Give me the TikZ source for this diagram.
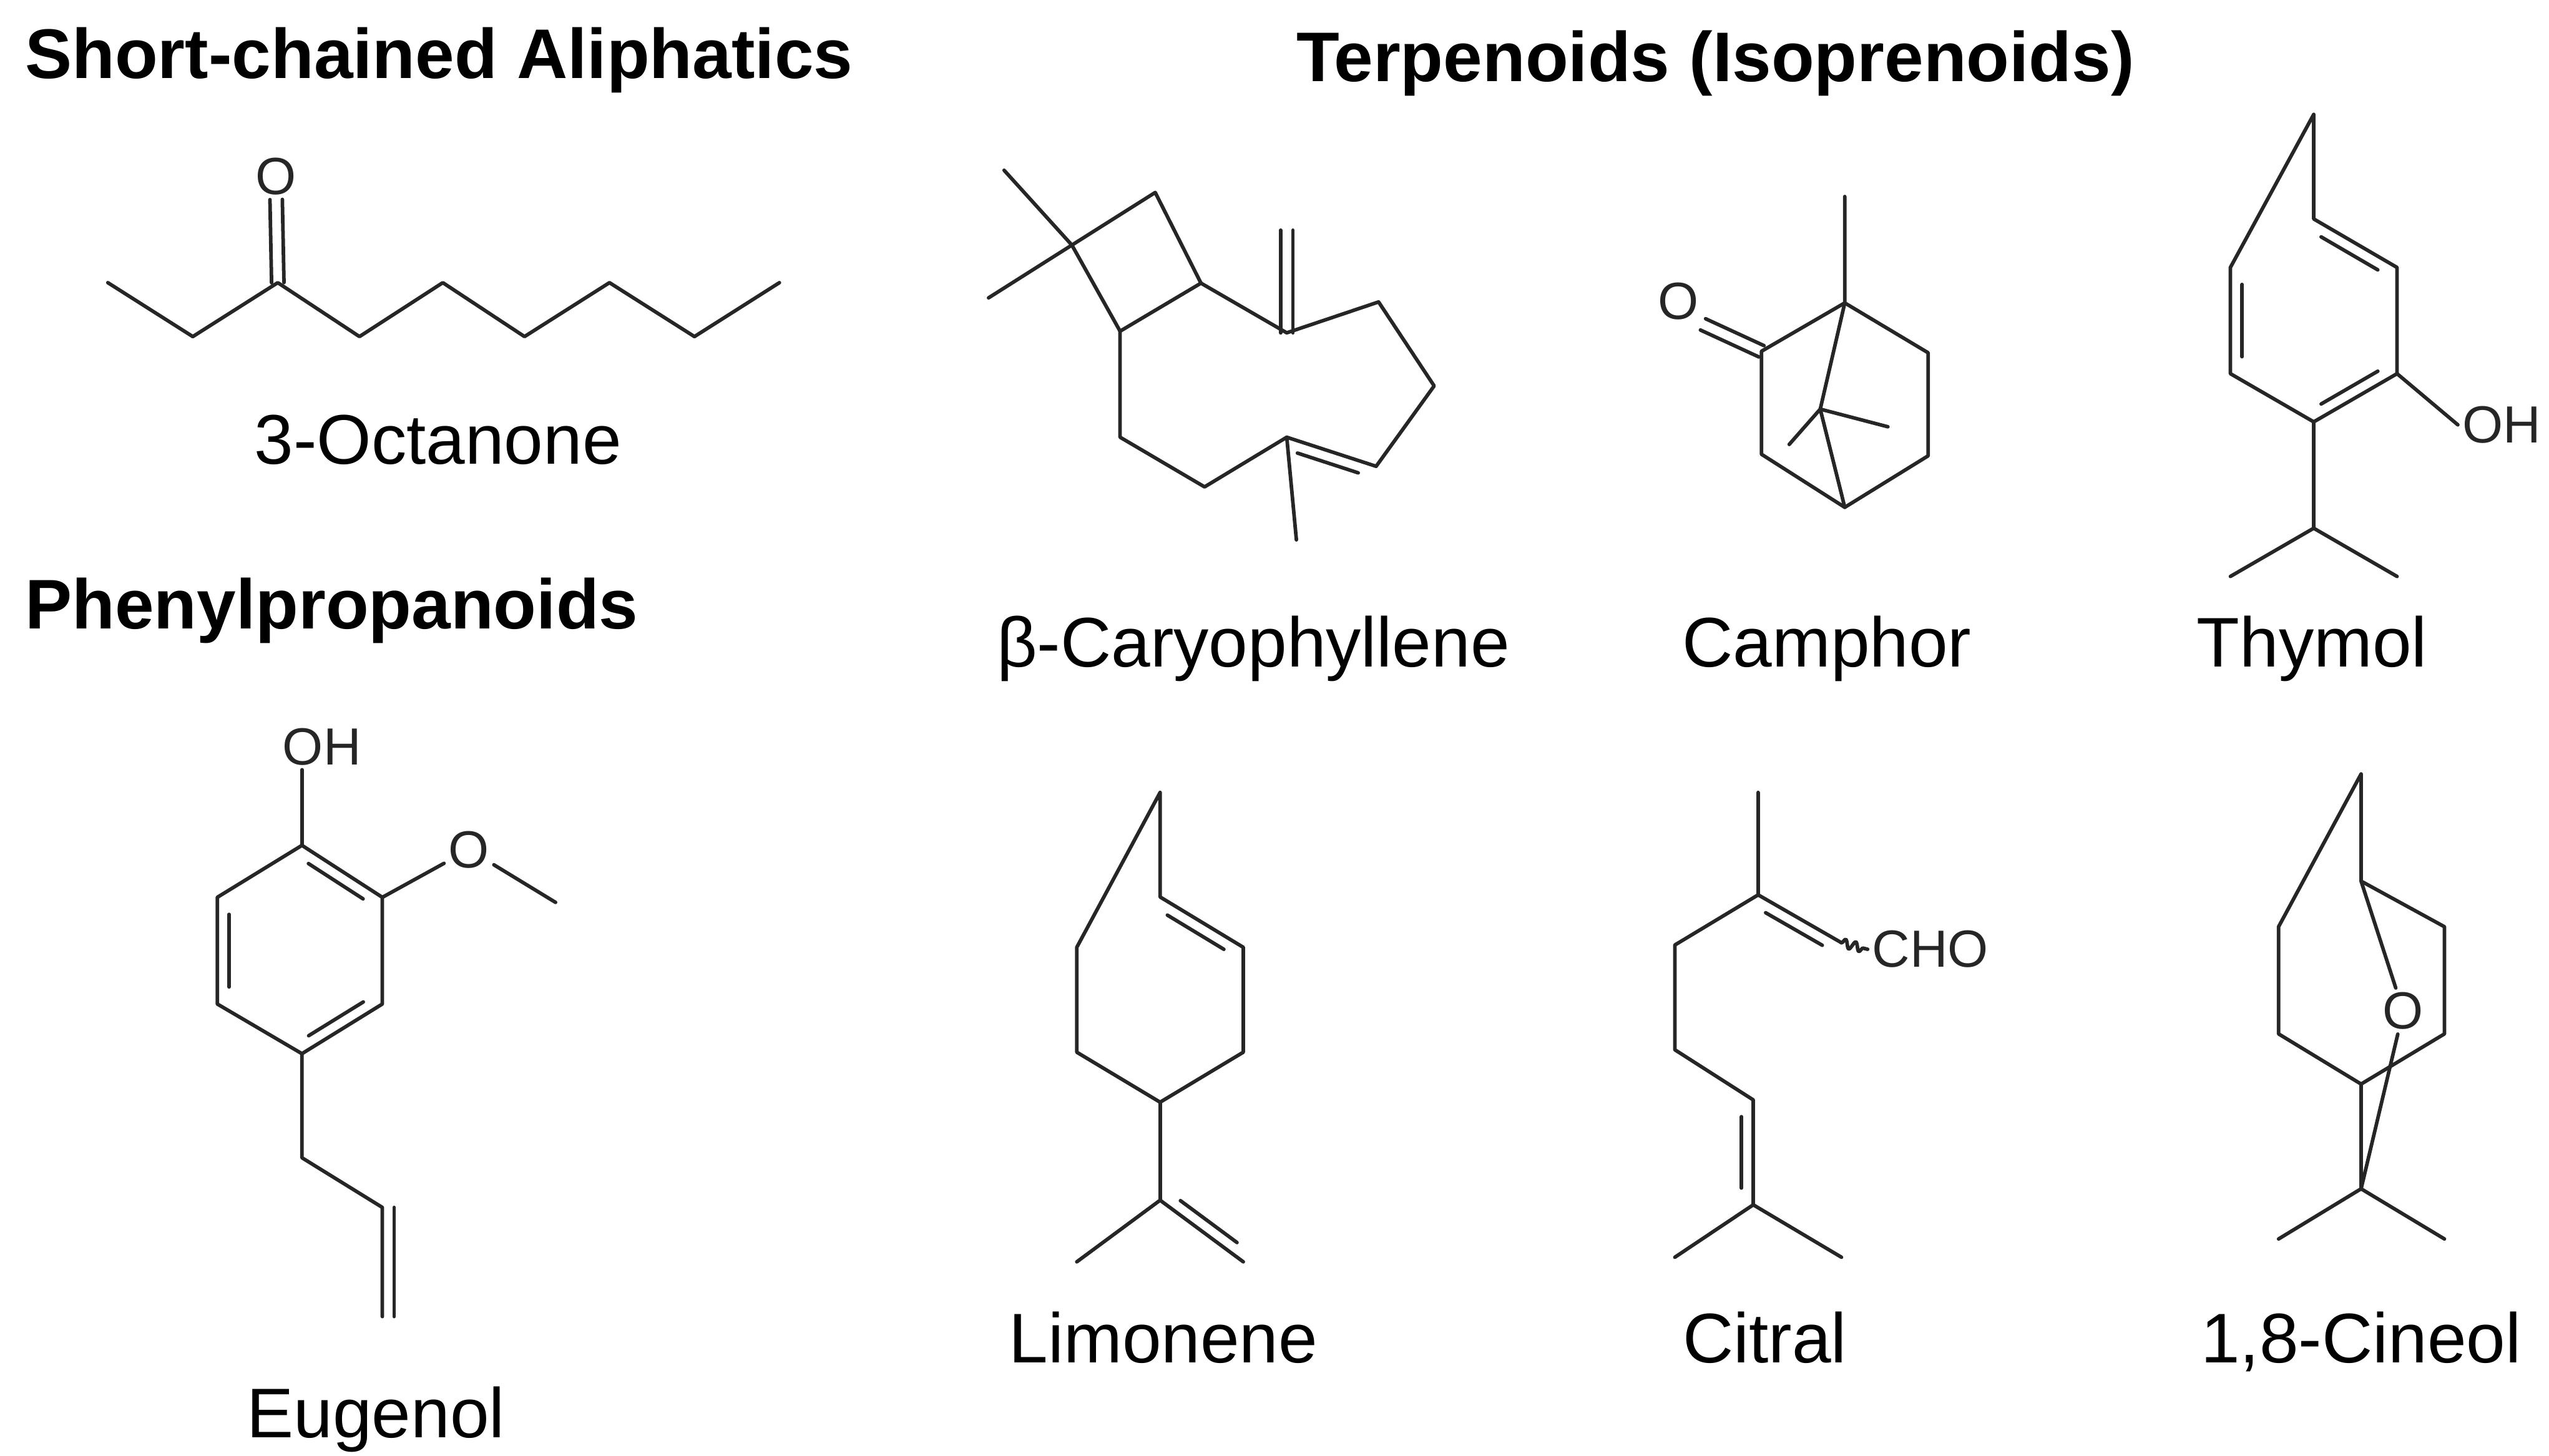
\documentclass[tikz,border=0pt]{standalone}
\usepackage{fontspec}
\setmainfont{Liberation Sans}
\usetikzlibrary{calc,decorations.pathmorphing}
\newcommand{\dbl}[2]{\draw[bond] ($(#1)!.16!(#2)!3.6pt!90:(#2)$) -- ($(#2)!.16!(#1)!3.6pt!-90:(#1)$);}
\newcommand{\dblfull}[2]{\draw[bond] ($(#1)!3.6pt!90:(#2)$) -- ($(#2)!3.6pt!-90:(#1)$);}
\newcommand{\cdbl}[2]{\draw[bond] ($(#1)!1.9pt!90:(#2)$) -- ($(#2)!1.9pt!-90:(#1)$);\draw[bond] ($(#1)!1.9pt!-90:(#2)$) -- ($(#2)!1.9pt!90:(#1)$);}
\tikzset{
  bond/.style={line width=1.1pt, line cap=round, line join=round, color=black!85},
  atom/.style={font=\fontsize{16}{18}\selectfont, inner sep=1.2pt, text=black!85},
  lbl/.style={font=\fontsize{21.5}{24}\selectfont, anchor=base, inner sep=0pt},
  head/.style={font=\bfseries\fontsize{21.5}{24}\selectfont, anchor=base west, inner sep=0pt}
}
\begin{document}
\begin{tikzpicture}[x=0.5pt,y=-0.5pt]
\useasboundingbox (0,0) rectangle (1560,890.8);
% headings
\node[head] (h1) at (15,48) {Short-chained Aliphatics};
\node[head] (h2) at (793,50) {Terpenoids (Isoprenoids)};
\node[head] (h3) at (15,385) {Phenylpropanoids};
% labels
\node[lbl] (l1) at (268,284) {3-Octanone};
\node[lbl] (l2) at (767,408) {β-Caryophyllene};
\node[lbl] (l3) at (1118,408) {Camphor};
\node[lbl] (l4) at (1415,408) {Thymol};
\node[lbl] (l5) at (230,880) {Eugenol};
\node[lbl] (l6) at (712,834) {Limonene};
\node[lbl] (l7) at (1080,834) {Citral};
\node[lbl] (l8) at (1445,834) {1,8-Cineol};
% ---- 3-Octanone
\foreach \i/\x/\y in {1/66/173,2/118/206,3/170/173,4/220/206,5/271/173,6/321/206,7/373/173,8/425/206,9/477/173}
  \coordinate (oc\i) at (\x,\y);
\draw[bond] (oc1)--(oc2)--(oc3)--(oc4)--(oc5)--(oc6)--(oc7)--(oc8)--(oc9);
\node[atom] (ocO) at (169,108) {O};
\cdbl{oc3}{ocO.south}
% ---- beta-Caryophyllene
\coordinate (cm1) at (614.5,104.2);
\coordinate (cq) at (656,150);
\coordinate (cm2) at (605,182.3);
\coordinate (ct) at (707,117.8);
\coordinate (cr) at (735,173.3);
\coordinate (cb) at (685.5,202.7);
\coordinate (cx) at (787.5,203.7);
\coordinate (cxh) at (787.5,140.9);
\coordinate (c1) at (843.7,184.8);
\coordinate (c2) at (877.7,236.2);
\coordinate (c3) at (842.2,285.4);
\coordinate (c4) at (787.5,267.6);
\coordinate (c4m) at (793.4,330.4);
\coordinate (c5) at (737.2,298);
\coordinate (c6) at (685.5,267.6);
\draw[bond] (cm1)--(cq)--(cm2);
\draw[bond] (cq)--(ct)--(cr)--(cb)--cycle;
\draw[bond] (cr)--(cx)--(c1)--(c2)--(c3)--(c4)--(c5)--(c6)--(cb);
\draw[bond] (c4)--(c4m);
\cdbl{cx}{cxh}
\dbl{c3}{c4}
% ---- Camphor
\coordinate (k1m) at (1129,120.3);
\coordinate (k1) at (1129,185.4);
\coordinate (k2) at (1078,215);
\coordinate (k3) at (1078,278);
\coordinate (k4) at (1129,310.5);
\coordinate (k5) at (1180,279);
\coordinate (k6) at (1180,215.9);
\coordinate (k7) at (1114,250.4);
\coordinate (k7a) at (1095,272);
\coordinate (k7b) at (1155.4,261.2);
\node[atom] (kO) at (1027,184.4) {O};
\draw[bond] (k1m)--(k1)--(k2)--(k3)--(k4)--(k5)--(k6)--(k1);
\draw[bond] (k1)--(k7)--(k4);
\draw[bond] (k7a)--(k7)--(k7b);
\cdbl{k2}{kO.south east}
% ---- Thymol
\coordinate (t0) at (1416,70);
\coordinate (t1) at (1416,134);
\coordinate (t2) at (1467,163.7);
\coordinate (t3) at (1467,228.7);
\coordinate (t4) at (1416,258.2);
\coordinate (t5) at (1365,228.7);
\coordinate (t6) at (1365,163.7);
\coordinate (t7) at (1416,323.3);
\coordinate (t8) at (1365,352.8);
\coordinate (t9) at (1467,352.8);
\node[atom] (tOH) at (1531,260) {OH};
\draw[bond] (t0)--(t1)--(t2)--(t3)--(t4)--(t5)--(t6)--cycle;
\draw[bond] (t4)--(t7); \draw[bond] (t8)--(t7)--(t9);
\draw[bond] (t3)--(tOH.west);
\dbl{t2}{t1} \dbl{t4}{t3} \dbl{t6}{t5}
% ---- Eugenol
\node[atom] (eOH) at (197,457) {OH};
\coordinate (e1) at (184.8,517.4);
\coordinate (e2) at (234,549.2);
\coordinate (e3) at (234,614.5);
\coordinate (e4) at (184.8,644.9);
\coordinate (e5) at (133,614.5);
\coordinate (e6) at (133,549.2);
\node[atom] (eO) at (287,520) {O};
\coordinate (eMe) at (340,552.3);
\coordinate (e7) at (184.8,708.6);
\coordinate (e8) at (234,739);
\coordinate (e9) at (234,805.8);
\draw[bond] (e1)--(e2)--(e3)--(e4)--(e5)--(e6)--cycle;
\draw[bond] (e1)--(e1|-eOH.south);
\draw[bond] (e2)--(eO); \draw[bond] (eO)--(eMe);
\draw[bond] (e4)--(e7)--(e8)--(e9);
\dbl{e2}{e1} \dbl{e4}{e3} \dbl{e6}{e5}
\dblfull{e8}{e9}
% ---- Limonene
\coordinate (m0) at (710,485);
\coordinate (m1) at (710,549);
\coordinate (m2) at (760.9,579.8);
\coordinate (m3) at (760.9,644);
\coordinate (m4) at (710,674.6);
\coordinate (m5) at (659,644);
\coordinate (m6) at (659,579.8);
\coordinate (m7) at (710,734.6);
\coordinate (m8) at (659,772.3);
\coordinate (m9) at (760.9,772.3);
\draw[bond] (m0)--(m1)--(m2)--(m3)--(m4)--(m5)--(m6)--cycle;
\draw[bond] (m4)--(m7); \draw[bond] (m8)--(m7)--(m9);
\dbl{m2}{m1}
\dbl{m7}{m9}
% ---- Citral
\coordinate (s0) at (1076,485);
\coordinate (s3) at (1076,547.7);
\coordinate (s2) at (1127,577);
\coordinate (s4) at (1025,578.4);
\coordinate (s5) at (1025,642.5);
\coordinate (s6) at (1073,673.2);
\coordinate (s7) at (1073,737.4);
\coordinate (s8) at (1025,769.5);
\coordinate (s9) at (1127,769.5);
\node[atom, anchor=west] (sCHO) at (1143,581) {CHO};
\draw[bond] (s0)--(s3)--(s2);
\draw[bond] (s3)--(s4)--(s5)--(s6)--(s7);
\draw[bond] (s8)--(s7)--(s9);
\dbl{s2}{s3}
\dbl{s7}{s6}
\draw[bond, decorate, decoration={snake, segment length=3.2pt, amplitude=1.3pt}] (s2)--(sCHO.west);
% ---- 1,8-Cineol
\coordinate (n0) at (1445,473.7);
\coordinate (n1) at (1445,539.3);
\coordinate (n2) at (1496,567.2);
\coordinate (n3) at (1496,632.8);
\coordinate (n4) at (1445,663.5);
\coordinate (n5) at (1394.5,632.8);
\coordinate (n6) at (1394.5,567.2);
\coordinate (n8) at (1445,727.6);
\coordinate (n9) at (1394.5,758.3);
\coordinate (n10) at (1496,758.3);
\node[atom] (nO) at (1470.8,618.8) {O};
\draw[bond] (n0)--(n1)--(n2)--(n3)--(n4)--(n5)--(n6)--cycle;
\draw[bond] (n4)--(n8); \draw[bond] (n9)--(n8)--(n10);
\draw[bond] (n1)--(nO); \draw[bond] (nO)--(n8);
\end{tikzpicture}
\end{document}
